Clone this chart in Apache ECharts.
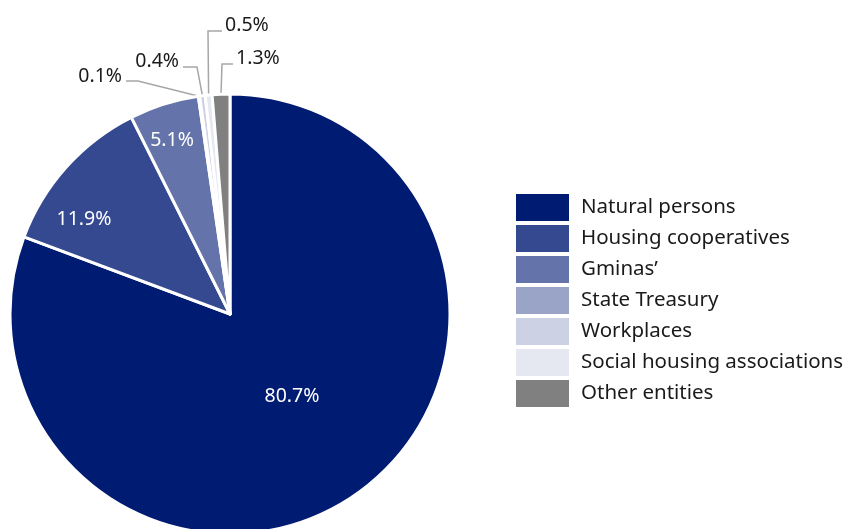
<!DOCTYPE html>
<html>
<head>
<meta charset="utf-8">
<script src="https://cdn.jsdelivr.net/npm/echarts@6/dist/echarts.min.js"></script>
<style>
html,body{margin:0;padding:0;background:#fff;}
#chart{width:848px;height:529px;}
</style>
</head>
<body>
<div id="chart"></div>
<script>
// ---- data ----
const categories = ['Natural persons', 'Housing cooperatives', 'Gminas\u2019', 'State Treasury', 'Workplaces', 'Social housing associations', 'Other entities'];
const shares = [80.7, 11.9, 5.1, 0.1, 0.4, 0.5, 1.3];
const colors = ['#001b72', '#344990', '#6474aa', '#99a4c7', '#ccd1e3', '#e5e8f1', '#808080'];

// ---- label placement (styling) ----
const insideSpots = {
  0: [292, 396],
  1: [84, 219],
  2: [172, 140]
};
const outsideSpots = {
  3: {elbow: [138, 81], end: [126, 81], tx: 122, ty: 76, align: 'right'},
  4: {elbow: [197, 67], end: [183, 67], tx: 179, ty: 61, align: 'right'},
  5: {elbow: [208, 31], end: [222, 31], tx: 225, ty: 25, align: 'left'},
  6: {elbow: [222, 64], end: [233, 64], tx: 236, ty: 58, align: 'left'}
};

const FONT = '"Noto Sans", sans-serif';

const pieData = categories.map((name, i) => {
  const item = {name: name, value: shares[i], itemStyle: {color: colors[i]}};
  if (i < 3) {
    item.label = {position: 'inside', color: '#ffffff'};
    item.labelLine = {show: false};
  }
  return item;
});

const chart = echarts.init(document.getElementById('chart'), null, {renderer: 'canvas'});
chart.setOption({
  backgroundColor: '#ffffff',
  animation: false,
  legend: {
    orient: 'vertical',
    left: 516,
    top: 194,
    padding: 0,
    itemWidth: 53,
    itemHeight: 27,
    itemGap: 4,
    icon: 'rect',
    selectedMode: false,
    itemStyle: {borderWidth: 0},
    data: categories,
    textStyle: {
      fontFamily: FONT,
      fontSize: 20.5,
      lineHeight: 22,
      color: '#1a1a1a',
      padding: [0, 0, 0, 7]
    }
  },
  series: [{
    type: 'pie',
    center: [230, 314],
    radius: [0, 220],
    startAngle: 90,
    clockwise: true,
    avoidLabelOverlap: false,
    itemStyle: {borderColor: '#ffffff', borderWidth: 3},
    label: {
      show: true,
      position: 'outside',
      formatter: p => p.value.toFixed(1) + '%',
      fontFamily: FONT,
      fontSize: 19.5,
      color: '#1a1a1a'
    },
    labelLine: {
      show: true,
      length: 20,
      length2: 10,
      lineStyle: {color: '#a6a6a6', width: 1.5}
    },
    emphasis: {disabled: true},
    data: pieData,
    labelLayout: function (params) {
      const i = params.dataIndex;
      if (insideSpots[i]) {
        return {x: insideSpots[i][0], y: insideSpots[i][1], align: 'center', verticalAlign: 'middle'};
      }
      const s = outsideSpots[i];
      if (s) {
        const start = params.labelLinePoints ? params.labelLinePoints[0] : s.elbow;
        return {
          x: s.tx, y: s.ty, align: s.align, verticalAlign: 'middle',
          hideOverlap: false,
          labelLinePoints: [start, s.elbow, s.end]
        };
      }
    }
  }]
});
</script>
</body>
</html>
